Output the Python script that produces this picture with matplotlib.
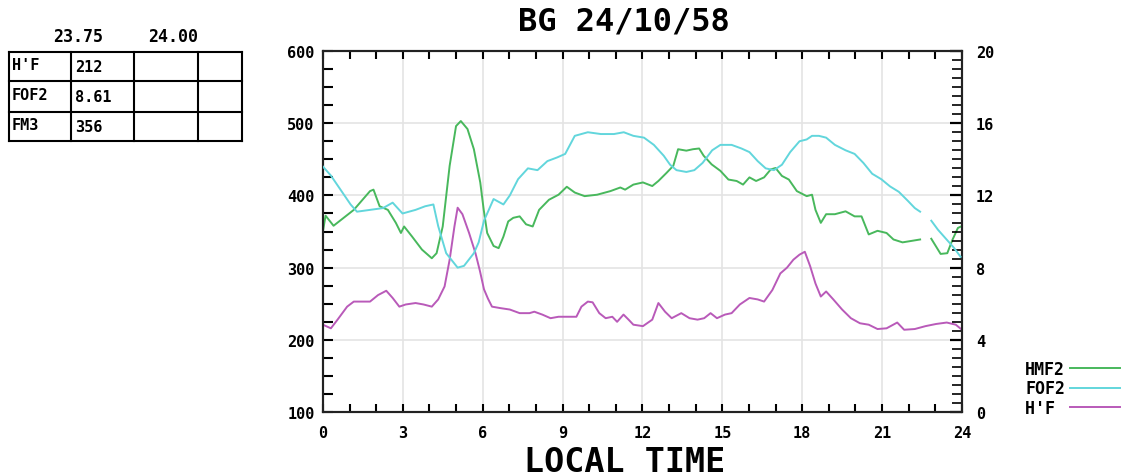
import numpy as np
import matplotlib
matplotlib.use('Agg')
import matplotlib.pyplot as plt
from matplotlib.ticker import MultipleLocator

# HMF2 (km, left axis); NaN marks the break in the trace
hmf2_hours = [0, 0.1, 0.4, 1.16, 1.77, 1.9, 2.13, 2.44, 2.74, 2.93, 3.05, 3.35, 3.72, 4.09,
              4.27, 4.5, 4.76, 5.0, 5.18, 5.43, 5.67, 5.91, 6.04, 6.17, 6.41, 6.6, 6.78,
              6.96, 7.15, 7.39, 7.63, 7.88, 8.12, 8.49, 8.85, 9.16, 9.46, 9.83, 10.3, 10.8,
              11.17, 11.35, 11.66, 12.02, 12.37, 12.6, 12.9, 13.16, 13.34, 13.65, 13.9,
              14.13, 14.3, 14.6, 14.93, 15.23, 15.54, 15.78, 16.02, 16.27, 16.57, 16.82,
              17.0, 17.24, 17.5, 17.8, 18.17, 18.37, 18.5, 18.7, 18.9, 19.23, 19.63, 19.97,
              20.23, 20.5, 20.83, 21.17, 21.43, 21.77, 22.1, 22.43, 22.6,
              22.85, 23.2, 23.45, 23.65, 23.85, 23.97]
hmf2 = [350, 372, 358, 380, 406, 408, 385, 380, 362, 348, 357, 343, 325, 313,
        320, 357, 441, 496, 503, 492, 464, 418, 380, 348, 330, 327, 343,
        364, 369, 371, 360, 357, 380, 394, 401, 412, 404, 399, 401, 406,
        411, 408, 415, 418, 413, 420, 431, 441, 464, 462, 464,
        465, 455, 443, 434, 422, 420, 415, 425, 420, 425, 436,
        438, 427, 422, 406, 399, 401, 380, 362, 374, 374, 378, 371,
        371, 346, 351, 348, 339, 335, 337, 339, np.nan,
        340, 319, 320, 339, 355, 357]

# FOF2 (MHz, right axis)
fof2_hours = [0, 0.3, 0.67, 1.04, 1.28, 1.77, 2.26, 2.62, 2.99, 3.48, 3.84, 4.15, 4.33,
              4.63, 5.06, 5.3, 5.67, 5.85, 6.05, 6.41, 6.78, 7.02, 7.33, 7.7, 8.06, 8.43,
              8.79, 9.1, 9.46, 9.95, 10.44, 10.93, 11.3, 11.66, 12.06, 12.43, 12.8, 13.04,
              13.28, 13.65, 13.95, 14.26, 14.62, 14.93, 15.35, 15.72, 16.02, 16.33, 16.63,
              16.94, 17.24, 17.55, 17.9, 18.17, 18.37, 18.63, 18.9, 19.23, 19.63, 19.97,
              20.3, 20.63, 20.97, 21.3, 21.63, 21.97, 22.23, 22.43, 22.6,
              22.85, 23.1, 23.4, 23.7, 23.95]
fof2 = [13.6, 13.1, 12.3, 11.5, 11.1, 11.2, 11.3, 11.6, 11.0, 11.2, 11.4, 11.5, 10.3,
        8.8, 8.0, 8.1, 8.8, 9.4, 10.6, 11.8, 11.5, 12.0, 12.9, 13.5, 13.4, 13.9,
        14.1, 14.3, 15.3, 15.5, 15.4, 15.4, 15.5, 15.3, 15.2, 14.8, 14.2, 13.7,
        13.4, 13.3, 13.4, 13.8, 14.5, 14.8, 14.8, 14.6, 14.4, 13.9, 13.5,
        13.4, 13.7, 14.4, 15.0, 15.1, 15.3, 15.3, 15.2, 14.8, 14.5, 14.3,
        13.8, 13.2, 12.9, 12.5, 12.2, 11.7, 11.3, 11.1, np.nan,
        10.6, 10.1, 9.6, 9.1, 8.6]

# H'F (km, left axis)
hf_hours = [0, 0.3, 0.55, 0.91, 1.16, 1.52, 1.77, 2.07, 2.38, 2.62, 2.87, 3.11, 3.48, 3.78,
            4.09, 4.33, 4.57, 4.76, 4.94, 5.06, 5.24, 5.49, 5.73, 5.9, 6.05, 6.2, 6.35,
            6.66, 7.02, 7.39, 7.76, 7.94, 8.24, 8.55, 8.85, 9.22, 9.52, 9.71, 9.95, 10.13,
            10.38, 10.62, 10.87, 11.05, 11.29, 11.48, 11.66, 12.02, 12.37, 12.6, 12.85,
            13.1, 13.46, 13.77, 14.07, 14.32, 14.56, 14.8, 15.1, 15.35, 15.66, 16.02,
            16.33, 16.57, 16.88, 17.18, 17.43, 17.67, 17.9, 18.1, 18.3, 18.5, 18.7, 18.9,
            19.17, 19.5, 19.83, 20.17, 20.5, 20.83, 21.17, 21.57, 21.83, 22.23, 22.63,
            23.03, 23.43, 23.77, 24.0]
h_f = [221, 216, 228, 246, 253, 253, 253, 262, 268, 258, 246, 249, 251, 249,
       246, 256, 274, 311, 357, 383, 374, 348, 320, 295, 270, 257, 246,
       244, 242, 237, 237, 239, 235, 230, 232, 232, 232, 246, 253, 252,
       237, 230, 232, 225, 235, 228, 221, 219, 228, 251, 239,
       230, 237, 230, 228, 230, 237, 230, 235, 237, 249, 258,
       256, 253, 269, 292, 300, 311, 318, 322, 302, 278, 260, 267,
       256, 242, 230, 223, 221, 215, 216, 224, 214, 215, 219,
       222, 224, 221, 214]

series_names = ["HMF2", "FOF2", "H'F"]
table_rows = ["H'F", "FOF2", "FM3"]
table_vals = ["212", "8.61", "356"]
table_times = ["23.75", "24.00"]

plt.rcParams['font.family'] = ['DejaVu Sans Mono']
plt.rcParams['font.weight'] = 'bold'

c_hmf2 = '#48b85c'
c_fof2 = '#62d6dc'
c_hf = '#b95ab9'

fig = plt.figure(figsize=(11.33, 4.77), dpi=100)

# overlay in pixel coordinates for the small table
over = fig.add_axes([0, 0, 1, 1])
over.set_xlim(0, 1133)
over.set_ylim(477, 0)
over.axis('off')

ax = fig.add_axes([0.285, 0.134, 0.564, 0.757])
ax2 = ax.twinx()

l1, = ax.plot(hmf2_hours, hmf2, color=c_hmf2, lw=1.4, zorder=3)
l3, = ax.plot(hf_hours, h_f, color=c_hf, lw=1.4, zorder=3)
l2, = ax2.plot(fof2_hours, fof2, color=c_fof2, lw=1.4, zorder=3)

ax.set_xlim(0, 24)
ax.set_ylim(100, 600)
ax2.set_ylim(0, 20)

ax.xaxis.set_major_locator(MultipleLocator(3))
ax.xaxis.set_minor_locator(MultipleLocator(1))
ax.yaxis.set_major_locator(MultipleLocator(100))
ax.yaxis.set_minor_locator(MultipleLocator(25))
ax2.yaxis.set_major_locator(MultipleLocator(4))
ax2.yaxis.set_minor_locator(MultipleLocator(0.5))

ax.grid(True, which='major', color='#e4e4e4', lw=1.2, zorder=0)
ax.set_axisbelow(True)

ax.tick_params(axis='x', which='both', direction='in', top=True, length=6, width=1.5,
               labelsize=11, pad=9)
ax.tick_params(axis='y', which='both', direction='in', right=False, length=7, width=1.5,
               labelsize=11, pad=6)
ax2.tick_params(axis='y', which='major', direction='in', length=9, width=1.6,
                labelsize=11, pad=10)
ax2.tick_params(axis='y', which='minor', direction='in', length=7, width=1.2)

for sp in list(ax.spines.values()) + list(ax2.spines.values()):
    sp.set_linewidth(1.5)
    sp.set_color('#222222')

fig.text(0.551, 0.031, "LOCAL TIME", ha='center', va='center', fontsize=24,
         fontweight='bold')
fig.text(0.551, 0.953, "BG 24/10/58", ha='center', va='center', fontsize=23,
         fontweight='bold')

# pad labels to equal width so they read left-aligned like the original
labels = [s.ljust(4) for s in series_names]
fig.legend([l1, l2, l3], labels, loc='upper right',
           bbox_to_anchor=(0.999, 0.268), frameon=False, markerfirst=False,
           fontsize=12, handlelength=3.0, handletextpad=0.3, labelspacing=0.1,
           borderpad=0.2)

# small value table, top left
col_x = [9, 71, 134, 198, 242]
row_y = [53, 82, 113, 142]
for x in col_x:
    over.plot([x, x], [row_y[0], row_y[-1]], color='black', lw=1.5)
for y in row_y:
    over.plot([col_x[0], col_x[-1]], [y, y], color='black', lw=1.5)
for i, (name, val) in enumerate(zip(table_rows, table_vals)):
    yc = (row_y[i] + row_y[i + 1]) / 2 - 2
    over.text(col_x[0] + 3, yc, name, ha='left', va='center', fontsize=11)
    over.text(col_x[1] + 4, yc + 2, val, ha='left', va='center', fontsize=11)
over.text(78, 37, table_times[0], ha='center', va='center', fontsize=12)
over.text(173, 37, table_times[1], ha='center', va='center', fontsize=12)

fig.savefig("out.png", dpi=100)
